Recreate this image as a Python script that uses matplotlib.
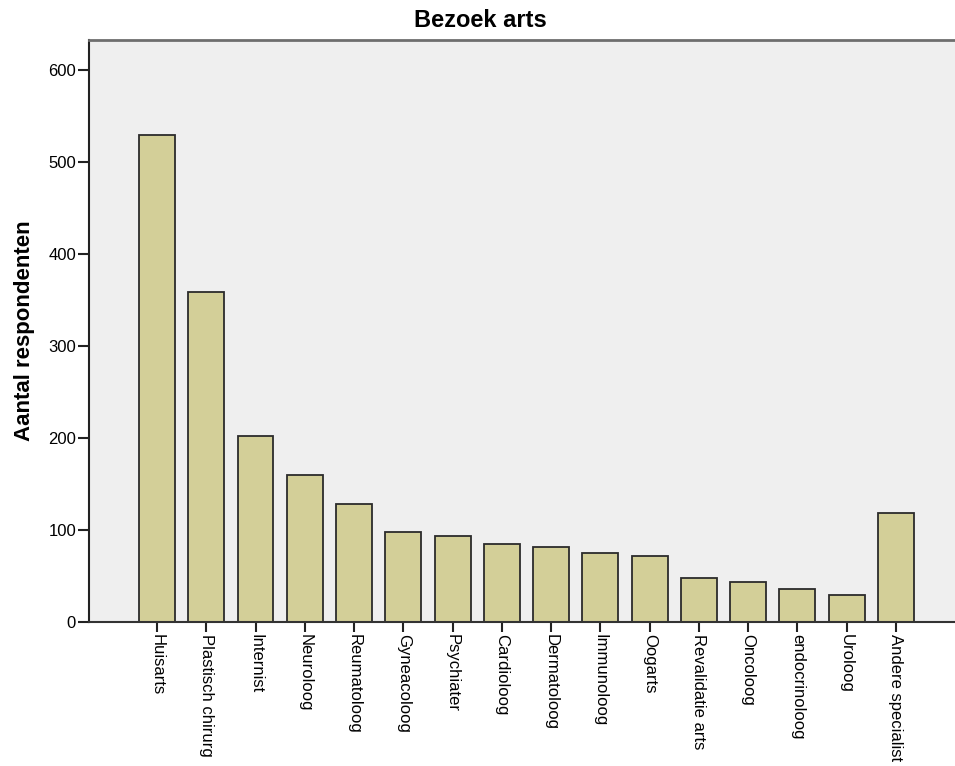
import matplotlib
matplotlib.use('Agg')
import matplotlib.pyplot as plt
import numpy as np

plt.rcParams['font.family'] = ['Liberation Sans', 'DejaVu Sans']

# values
categories = ['Huisarts', 'Plastisch chirurg', 'Internist', 'Neuroloog', 'Reumatoloog',
              'Gyneacoloog', 'Psychiater', 'Cardioloog', 'Dermatoloog', 'Immunoloog',
              'Oogarts', 'Revalidatie arts', 'Oncoloog', 'endocrinoloog', 'Uroloog',
              'Andere specialist']
counts = [530, 359, 202, 160, 128, 98, 93, 85, 82, 75, 72, 48, 43, 36, 29, 118]
y_ticks = [0, 100, 200, 300, 400, 500, 600]

fig = plt.figure(figsize=(9.55, 7.66), dpi=100)
ax = fig.add_axes([0.0927, 0.188, 0.9073, 0.7595])
ax.set_facecolor('#EFEFEF')

x = np.arange(len(categories))
ax.bar(x, counts, width=0.73, color='#D3CF98', edgecolor='#2b2b2b', linewidth=1.3, zorder=2)

ax.set_xlim(-1.39, 16.2)
ax.set_ylim(0, 632.6)
ax.set_yticks(y_ticks)
ax.set_yticklabels([str(v) for v in y_ticks], fontsize=12)
ax.set_xticks(x)
ax.set_xticklabels(categories, rotation=-90, ha='center', va='top', fontsize=12)

ax.tick_params(axis='y', length=8, width=1.5, pad=1, color='#222222')
ax.tick_params(axis='x', length=7.5, width=1.5, pad=1, color='#222222')

ax.spines['left'].set_color('#222222')
ax.spines['left'].set_linewidth(1.5)
ax.spines['bottom'].set_color('#333333')
ax.spines['bottom'].set_linewidth(1.5)
ax.spines['top'].set_color('#6e6e6e')
ax.spines['top'].set_linewidth(2)
ax.spines['right'].set_visible(False)

ax.set_ylabel('Aantal respondenten', fontsize=16, fontweight='bold')
ax.yaxis.set_label_coords(-0.062, 0.5)
fig.text(0.503, 0.973, 'Bezoek arts', ha='center', va='center', fontsize=17, fontweight='bold')

fig.savefig('out.png', dpi=100)
